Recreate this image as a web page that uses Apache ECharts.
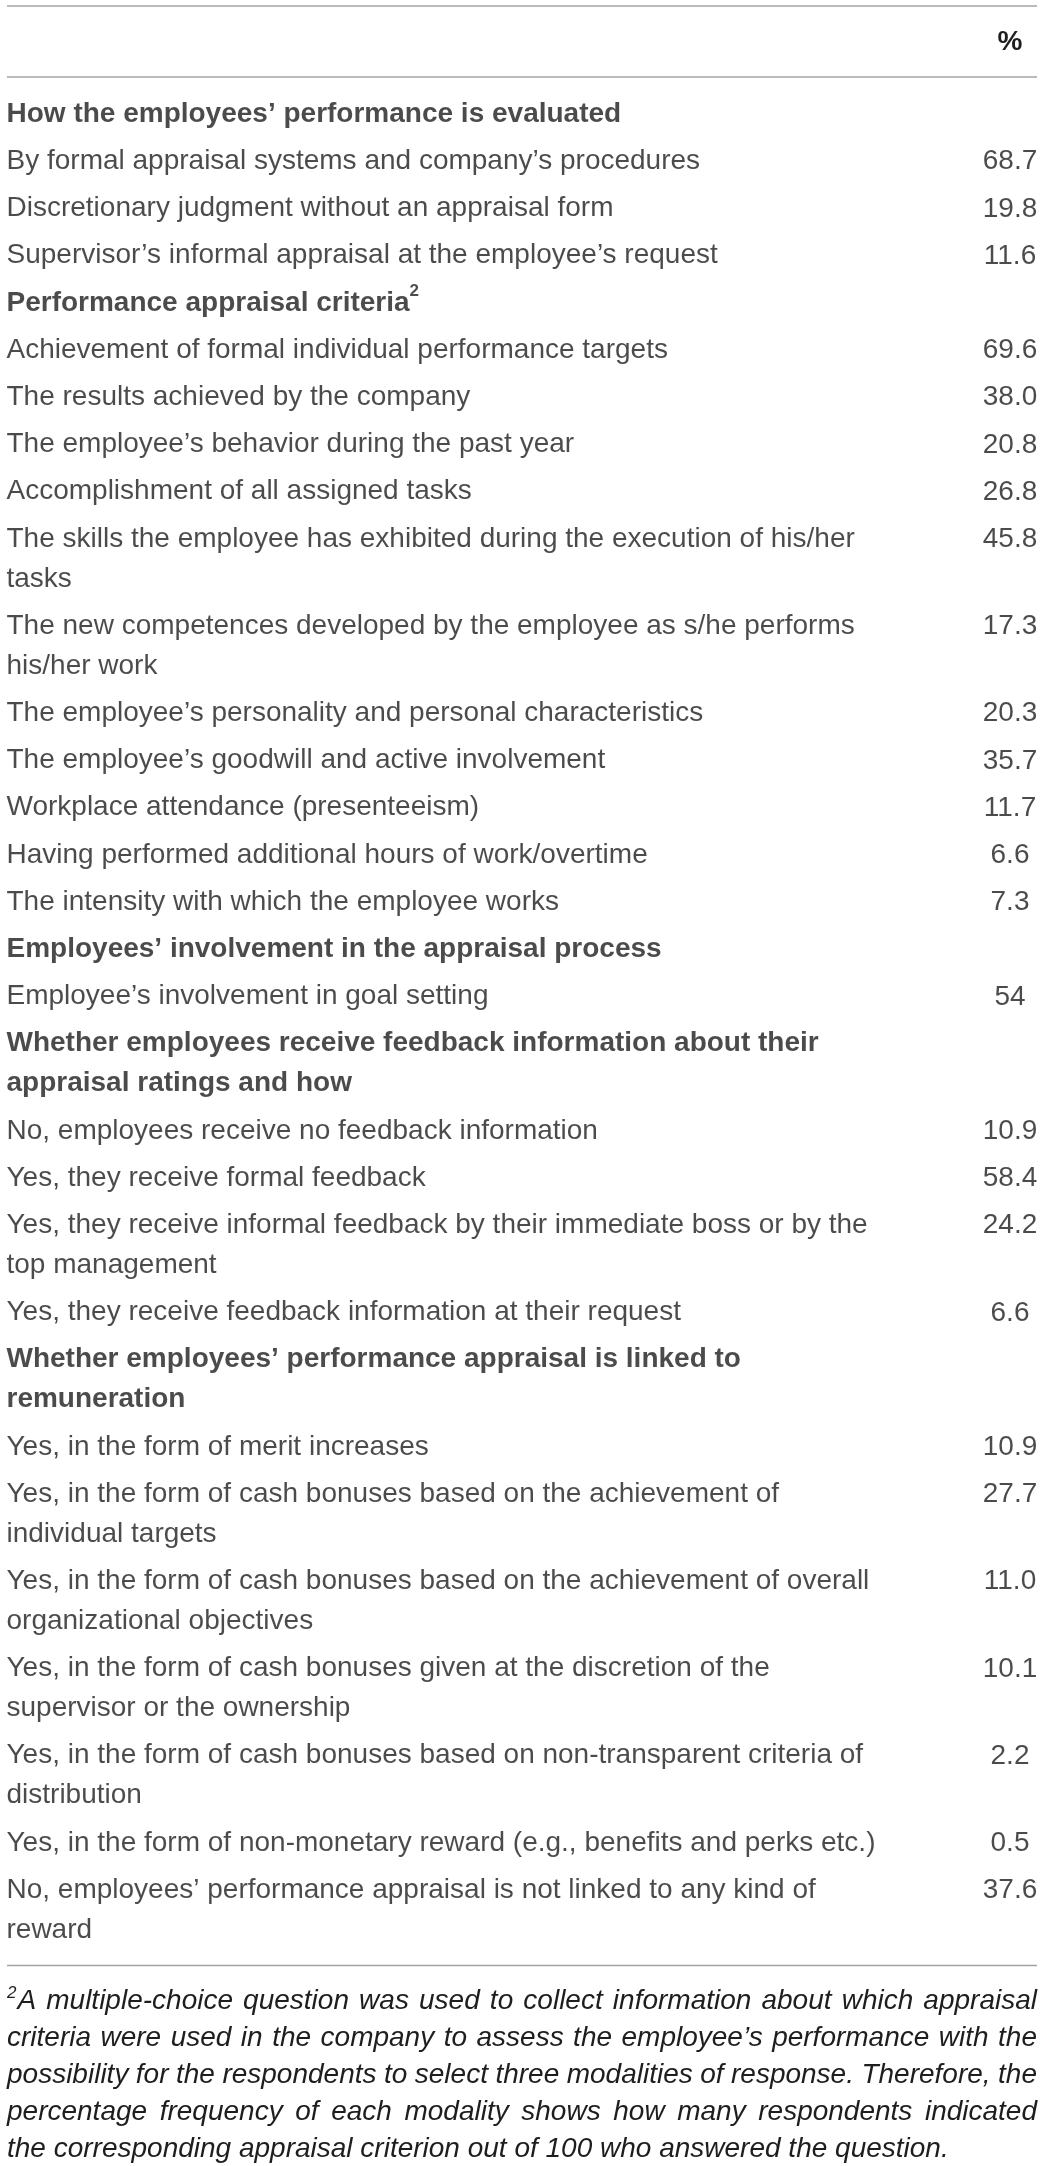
<!DOCTYPE html>
<html>
<head>
<meta charset="utf-8">
<title>Performance appraisal practices</title>
<script src="https://cdn.jsdelivr.net/npm/echarts@6/dist/echarts.min.js"></script>
<style>
  html, body { margin: 0; padding: 0; background: #fff; }
  #chart { width: 1042px; height: 2166px; }
</style>
</head>
<body>
<div id="chart"></div>
<script>
// Table data

const sectionTitles = [
  'How the employees’ performance is evaluated',
  'Performance appraisal criteria',
  'Employees’ involvement in the appraisal process',
  'Whether employees receive feedback information about their\nappraisal ratings and how',
  'Whether employees’ performance appraisal is linked to\nremuneration'
];
const sectionNotes = ['', '2', '', '', ''];
const sectionDigits = [1, 1, 0, 1, 1];

const evaluationItems = [
  'By formal appraisal systems and company’s procedures',
  'Discretionary judgment without an appraisal form',
  'Supervisor’s informal appraisal at the employee’s request'
];
const evaluationValues = [68.7, 19.8, 11.6];

const criteriaItems = [
  'Achievement of formal individual performance targets',
  'The results achieved by the company',
  'The employee’s behavior during the past year',
  'Accomplishment of all assigned tasks',
  'The skills the employee has exhibited during the execution of his/her\ntasks',
  'The new competences developed by the employee as s/he performs\nhis/her work',
  'The employee’s personality and personal characteristics',
  'The employee’s goodwill and active involvement',
  'Workplace attendance (presenteeism)',
  'Having performed additional hours of work/overtime',
  'The intensity with which the employee works'
];
const criteriaValues = [69.6, 38.0, 20.8, 26.8, 45.8, 17.3, 20.3, 35.7, 11.7, 6.6, 7.3];

const involvementItems = ['Employee’s involvement in goal setting'];
const involvementValues = [54];

const feedbackItems = [
  'No, employees receive no feedback information',
  'Yes, they receive formal feedback',
  'Yes, they receive informal feedback by their immediate boss or by the\ntop management',
  'Yes, they receive feedback information at their request'
];
const feedbackValues = [10.9, 58.4, 24.2, 6.6];

const remunerationItems = [
  'Yes, in the form of merit increases',
  'Yes, in the form of cash bonuses based on the achievement of\nindividual targets',
  'Yes, in the form of cash bonuses based on the achievement of overall\norganizational objectives',
  'Yes, in the form of cash bonuses given at the discretion of the\nsupervisor or the ownership',
  'Yes, in the form of cash bonuses based on non-transparent criteria of\ndistribution',
  'Yes, in the form of non-monetary reward (e.g., benefits and perks etc.)',
  'No, employees’ performance appraisal is not linked to any kind of\nreward'
];
const remunerationValues = [10.9, 27.7, 11.0, 10.1, 2.2, 0.5, 37.6];

const columnHeader = '%';
const footnoteMark = '2';
const footnoteLines = [
  'A multiple-choice question was used to collect information about which appraisal',
  'criteria were used in the company to assess the employee’s performance with the',
  'possibility for the respondents to select three modalities of response. Therefore, the',
  'percentage frequency of each modality shows how many respondents indicated',
  'the corresponding appraisal criterion out of 100 who answered the question.'
];

// Layout
const W = 1042, H = 2166;
const LEFT = 7, RIGHT = 1037, VALUE_X = 1010;
const FONT = 'Liberation Sans, Arial, Helvetica, sans-serif';
const TEXT_COLOR = '#1e1e1e';
const RULE_COLOR = '#a3a3a3';
const FONT_SIZE = 28;
const ROW_STEP = 47.2;
const LINE_STEP = 40;

const groups = [
  { items: evaluationItems, values: evaluationValues },
  { items: criteriaItems, values: criteriaValues },
  { items: involvementItems, values: involvementValues },
  { items: feedbackItems, values: feedbackValues },
  { items: remunerationItems, values: remunerationValues }
];

const lineCount = s => s.split('\n').length;

const headerPoints = [];
const textPoints = [];
const valuePoints = [];
let y = 114.5;
groups.forEach((g, gi) => {
  headerPoints.push({ name: sectionTitles[gi], note: sectionNotes[gi], value: [LEFT, y] });
  y += ROW_STEP + LINE_STEP * (lineCount(sectionTitles[gi]) - 1);
  g.items.forEach((t, i) => {
    textPoints.push({ name: t, value: [LEFT, y] });
    valuePoints.push({ name: t, text: g.values[i].toFixed(sectionDigits[gi]), value: [VALUE_X, y] });
    y += ROW_STEP + LINE_STEP * (lineCount(t) - 1);
  });
});
const lastLineY = y - ROW_STEP;
const bottomRuleY = lastLineY + 35;
const footTop = bottomRuleY + 36;
const FOOT_STEP = 37;

// Footnote, justified word by word like the printed page
const measureCtx = document.createElement('canvas').getContext('2d');
function measure(s, size) {
  measureCtx.font = 'italic ' + size + 'px "Liberation Sans", Arial, sans-serif';
  return measureCtx.measureText(s).width;
}
const footElements = [];
footnoteLines.forEach((line, li) => {
  const ly = footTop + li * FOOT_STEP;
  const words = line.split(' ');
  const widths = words.map(w => measure(w, FONT_SIZE));
  let lead = 0;
  if (li === 0) {
    lead = measure(footnoteMark, 17) + 1;
    footElements.push({
      type: 'text', x: LEFT, y: ly - 8,
      style: { text: footnoteMark, fontSize: 17, fontStyle: 'italic', fontFamily: FONT, fill: TEXT_COLOR, align: 'left', verticalAlign: 'middle' }
    });
  }
  const total = widths.reduce((a, b) => a + b, 0) + lead;
  const isLast = li === footnoteLines.length - 1;
  const gap = isLast ? measure(' ', FONT_SIZE) : (RIGHT - LEFT - total) / (words.length - 1);
  let x = LEFT + lead;
  words.forEach((w, i) => {
    footElements.push({
      type: 'text', x: x, y: ly,
      style: { text: w, fontSize: FONT_SIZE, fontStyle: 'italic', fontFamily: FONT, fill: TEXT_COLOR, align: 'left', verticalAlign: 'middle' }
    });
    x += widths[i] + gap;
  });
});

function rule(ry) {
  return { type: 'line', shape: { x1: LEFT, y1: ry, x2: RIGHT, y2: ry }, style: { stroke: RULE_COLOR, lineWidth: 1.6 } };
}

const chart = echarts.init(document.getElementById('chart'), null, { renderer: 'canvas' });

const hidden = { color: 'rgba(0,0,0,0)' };
const leftLabel = {
  show: true,
  position: [0, 0],
  align: 'left',
  verticalAlign: 'top',
  offset: [0, -LINE_STEP / 2],
  fontSize: FONT_SIZE,
  lineHeight: LINE_STEP,
  fontFamily: FONT,
  color: TEXT_COLOR
};

chart.setOption({
  backgroundColor: '#ffffff',
  animation: false,
  grid: { left: 0, right: 0, top: 0, bottom: 0 },
  xAxis: { type: 'value', min: 0, max: W, show: false },
  yAxis: { type: 'value', min: 0, max: H, inverse: true, show: false },
  series: [
    {
      name: 'sections',
      type: 'scatter',
      symbolSize: 1,
      itemStyle: hidden,
      data: headerPoints,
      label: Object.assign({}, leftLabel, {
        fontWeight: 'bold',
        formatter: p => p.data.note ? p.name + '{sup|' + p.data.note + '}' : p.name,
        rich: {
          sup: { fontSize: 17, fontWeight: 'bold', fontFamily: FONT, color: TEXT_COLOR, lineHeight: 30, verticalAlign: 'top' }
        }
      })
    },
    {
      name: 'items',
      type: 'scatter',
      symbolSize: 1,
      itemStyle: hidden,
      data: textPoints,
      label: Object.assign({}, leftLabel, { formatter: p => p.name })
    },
    {
      name: 'values',
      type: 'scatter',
      symbolSize: 1,
      itemStyle: hidden,
      data: valuePoints,
      label: {
        show: true,
        position: 'inside',
        fontSize: FONT_SIZE,
        fontFamily: FONT,
        color: TEXT_COLOR,
        formatter: p => p.data.text
      }
    }
  ],
  graphic: [
    rule(6),
    rule(77),
    rule(bottomRuleY),
    {
      type: 'text', x: VALUE_X, y: 42,
      style: { text: columnHeader, fontSize: FONT_SIZE, fontWeight: 'bold', fontFamily: FONT, fill: TEXT_COLOR, align: 'center', verticalAlign: 'middle' }
    }
  ].concat(footElements)
});

window.addEventListener('resize', () => chart.resize());
</script>
</body>
</html>
